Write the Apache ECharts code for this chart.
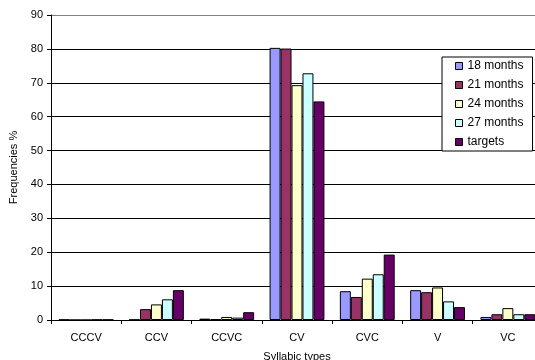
<!DOCTYPE html>
<html><head><meta charset="utf-8">
<script src="https://cdn.jsdelivr.net/npm/echarts@6/dist/echarts.min.js"></script>
<style>html,body{margin:0;padding:0;background:#fff}#c{width:535px;height:360px}</style>
</head><body><div id="c"></div>
<script>
const categories = ['CCCV','CCV','CCVC','CV','CVC','V','VC'];
const m18 = [0.1, 0.1, 0.4, 80.3, 8.5, 8.8, 0.9];
const m21 = [0, 3.2, 0.2, 80.1, 6.8, 8.2, 1.7];
const m24 = [0, 4.6, 0.9, 69.3, 12.2, 9.6, 3.5];
const m27 = [0.1, 6.1, 0.7, 72.8, 13.5, 5.5, 1.7];
const targets = [0.1, 8.8, 2.3, 64.5, 19.3, 3.8, 1.7];
const yTicks = [0, 10, 20, 30, 40, 50, 60, 70, 80, 90];
const seriesNames = ['18 months','21 months','24 months','27 months','targets'];
const seriesData = [m18, m21, m24, m27, targets];
const colors = ['#9999FF','#993366','#FFFFCC','#CCFFFF','#660066'];
const font = 'Liberation Sans, Arial, sans-serif';

const chart = echarts.init(document.getElementById('c'), null, {renderer:'canvas'});
chart.setOption({
  animation: false,
  textStyle: {fontFamily: font},
  grid: {left: 51, top: 15, bottom: 40, right: -8, containLabel: false, outerBoundsMode: 'none'},
  legend: {
    orient: 'vertical', left: 442, top: 57,
    backgroundColor: '#fff', borderColor: '#000', borderWidth: 1,
    padding: [3, 9, 3, 13], itemGap: 7, itemWidth: 7, itemHeight: 7,
    icon: 'rect', itemTextGap: 2,
    itemStyle: {borderColor: '#000', borderWidth: 1},
    textStyle: {fontSize: 12, color: '#000', fontFamily: font, lineHeight: 12},
    data: seriesNames
  },
  xAxis: {
    type: 'category', data: categories,
    name: 'Syllabic types', nameLocation: 'middle', nameGap: 31,
    nameTextStyle: {fontSize: 11, color: '#000', fontFamily: font},
    axisLine: {lineStyle: {color: '#000', width: 1}},
    axisTick: {show: true, length: 4, lineStyle: {color: '#000'}},
    axisLabel: {fontSize: 11, color: '#000', margin: 12, fontFamily: font},
    splitLine: {show: false}
  },
  yAxis: {
    type: 'value', min: 0, max: 90, interval: 10,
    name: 'Frequencies %', nameLocation: 'middle', nameGap: 24, nameRotate: 90,
    nameTextStyle: {fontSize: 11, color: '#000', fontFamily: font},
    axisLine: {show: true, lineStyle: {color: '#000', width: 1}},
    axisTick: {show: true, length: 4, lineStyle: {color: '#000'}},
    axisLabel: {fontSize: 11, color: '#000', margin: 8, fontFamily: font,
      formatter: v => yTicks.includes(v) ? String(v) : ''},
    splitLine: {show: true, lineStyle: {color: ['#000','#000','#000','#000','#000','#000','#000','#000','#000','#808080'], width: 1}}
  },
  series: seriesNames.map((n, i) => ({
    name: n, type: 'bar', data: seriesData[i],
    barGap: '0%', barCategoryGap: '22%',
    itemStyle: {color: colors[i], borderColor: '#000', borderWidth: 1}
  }))
});
</script></body></html>
